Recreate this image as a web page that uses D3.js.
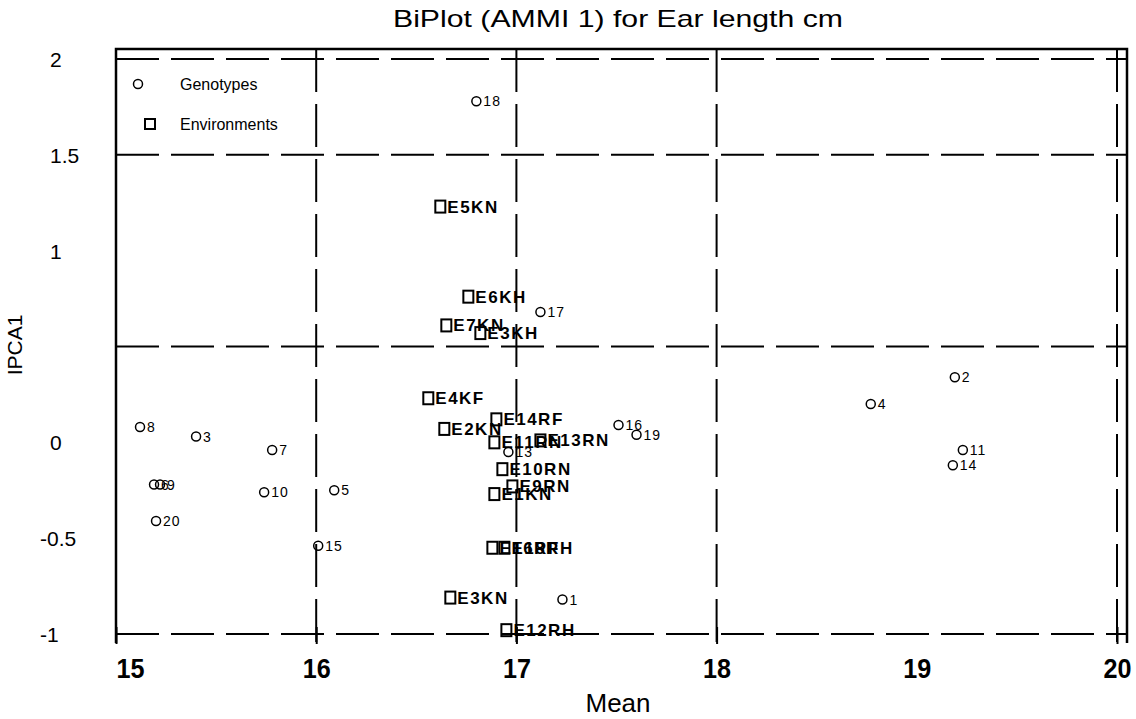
<!DOCTYPE html>
<html><head><meta charset="utf-8">
<script src="https://cdn.jsdelivr.net/npm/d3@7"></script>
<style>body{margin:0;background:#fff}svg{display:block}text{font-family:"Liberation Sans",Arial,sans-serif;fill:#000}</style>
</head><body><svg id="c" width="1136" height="719"></svg>
<script>
const xTicks=[15,16,17,18,19,20];
const xTickMarks=[15,16,17,18,20];
const yTicks=[2,1.5,1,0,-0.5,-1];
const vLines=[16,17,18,20];
const hLines=[2,1.5,0.5,-1];
const genoLabels=["18","17","8","3","7","6","9","10","5","20","15","1","16","19","13","4","2","11","14"];
const genoMean=[16.80,17.12,15.12,15.40,15.78,15.19,15.22,15.74,16.09,15.20,16.01,17.23,17.51,17.60,16.96,18.77,19.19,19.23,19.18];
const genoPC1=[1.78,0.68,0.08,0.03,-0.04,-0.22,-0.22,-0.26,-0.25,-0.41,-0.54,-0.82,0.09,0.04,-0.05,0.20,0.34,-0.04,-0.12];
const envLabels=["E5KN","E6KH","E7KN","E3KH","E4KF","E2KN","E14RF","E11RN","E13RN","E10RN","E9RN","E1KN","E16RF","E18RH","E3KN","E12RH"];
const envMean=[16.62,16.76,16.65,16.82,16.56,16.64,16.90,16.89,17.12,16.93,16.98,16.89,16.88,16.94,16.67,16.95];
const envPC1=[1.23,0.76,0.61,0.57,0.23,0.07,0.12,0.00,0.01,-0.14,-0.23,-0.27,-0.55,-0.55,-0.81,-0.98];

const svg=d3.select("#c");
const x=d3.scaleLinear().domain([15,20]).range([116,1117]);
const y=d3.scaleLinear().domain([-1,2]).range([634,59]);
const fTop=49,fBot=643,fLeft=116,fRight=1127;

// grid dashed lines
svg.selectAll("line.v").data(vLines).join("line").attr("class","v").attr("x1",d=>x(d)).attr("x2",d=>x(d))
 .attr("y1",fTop).attr("y2",fBot).attr("stroke","#000").attr("stroke-width",2).attr("stroke-dasharray","43,12");
svg.selectAll("line.h").data(hLines).join("line").attr("class","h").attr("y1",d=>y(d)).attr("y2",d=>y(d))
 .attr("x1",fLeft).attr("x2",fRight).attr("stroke","#000").attr("stroke-width",2).attr("stroke-dasharray","43,12");

// frame (top, left, right)
svg.append("path").attr("d",`M${fLeft},${fBot}V${fTop}H${fRight}V${fBot}`).attr("fill","none").attr("stroke","#000").attr("stroke-width",2.5);

// x axis ticks
const xa=d3.axisBottom(x).tickValues(xTicks).tickSize(10).tickFormat(d3.format("d"));
const gx=svg.append("g").attr("transform",`translate(0,${y(-1)})`).call(xa);
gx.select(".domain").remove();
gx.selectAll(".tick line").attr("stroke","#000").attr("stroke-width",2).attr("y1",-7)
 .attr("display",d=>xTickMarks.includes(d)?null:"none");
gx.selectAll(".tick text").attr("font-size",27).attr("font-weight","bold").attr("dy",0).attr("y",44)
 .attr("x",d=>d===15?14:0).attr("textLength",28).attr("lengthAdjust","spacingAndGlyphs");

// y axis labels (no tick marks)
const ya=d3.axisLeft(y).tickValues(yTicks).tickSize(0).tickFormat(d=>String(d));
const gy=svg.append("g").attr("transform",`translate(${fLeft},0)`).call(ya);
gy.select(".domain").remove();
gy.selectAll(".tick text").attr("font-size",21).attr("text-anchor","start").attr("dy","0.35em")
 .attr("x",d=>d<0?-76:-66);

// title and axis titles
svg.append("text").attr("x",618).attr("y",27).attr("text-anchor","middle").attr("font-size",24)
 .attr("textLength",450).attr("lengthAdjust","spacingAndGlyphs").text("BiPlot (AMMI 1) for Ear length cm");
svg.append("text").attr("x",618).attr("y",712).attr("text-anchor","middle").attr("font-size",26).text("Mean");
svg.append("text").attr("transform","translate(22,345) rotate(-90)").attr("text-anchor","middle").attr("font-size",21).text("IPCA1");

// legend
svg.append("circle").attr("cx",138).attr("cy",84).attr("r",4.5).attr("fill","none").attr("stroke","#000").attr("stroke-width",1.5);
svg.append("text").attr("x",180).attr("y",90).attr("font-size",16).text("Genotypes");
svg.append("rect").attr("x",145).attr("y",119).attr("width",10).attr("height",10).attr("fill","none").attr("stroke","#000").attr("stroke-width",2);
svg.append("text").attr("x",180).attr("y",130).attr("font-size",16).text("Environments");

// genotypes
const geno=genoLabels.map((l,i)=>({l,m:genoMean[i],p:genoPC1[i]}));
const gg=svg.append("g");
gg.selectAll("circle").data(geno).join("circle").attr("cx",d=>x(d.m)).attr("cy",d=>y(d.p)).attr("r",4.5)
 .attr("fill","none").attr("stroke","#000").attr("stroke-width",1.5);
gg.selectAll("text").data(geno).join("text").attr("x",d=>x(d.m)+7).attr("y",d=>y(d.p)+5).attr("font-size",14)
 .attr("letter-spacing",1).text(d=>d.l);

// environments
const env=envLabels.map((l,i)=>({l,m:envMean[i],p:envPC1[i]}));
const ge=svg.append("g");
ge.selectAll("rect").data(env).join("rect").attr("x",d=>x(d.m)-5).attr("y",d=>y(d.p)-6).attr("width",10).attr("height",12)
 .attr("fill","none").attr("stroke","#000").attr("stroke-width",2);
ge.selectAll("text").data(env).join("text").attr("x",d=>x(d.m)+7).attr("y",d=>y(d.p)+6).attr("font-size",17)
 .attr("font-weight","bold").attr("letter-spacing",1.5).text(d=>d.l);
</script></body></html>
